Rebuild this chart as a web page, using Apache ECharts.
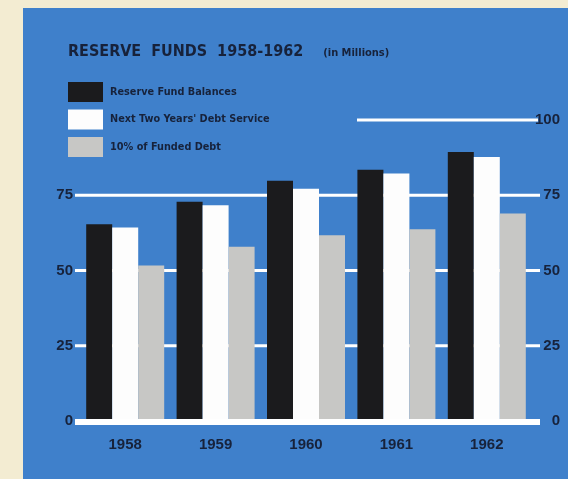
<!DOCTYPE html>
<html lang="en">
<head>
    <meta charset="UTF-8">
    <title>echarts</title>
    <script src="https://cdn.jsdelivr.net/npm/echarts@6/dist/echarts.min.js"></script>
    <style>
        body { margin: 0; background: #f3ecd2; }
        #panel { position: absolute; left: 23px; top: 8px; width: 545px; height: 471px; background: #3f80cb; }
        #myChart { position: absolute; left: 0; top: 0; width: 568px; height: 479px; }
    </style>
</head>
<body>
<div id="panel"></div>
<div id="myChart"></div>
<script type="text/javascript">
    // 数据
    var years = ['1958', '1959', '1960', '1961', '1962'];
    var reserveBalances = [65.4, 72.8, 79.8, 83.5, 89.4];
    var debtService = [64.3, 71.7, 77.2, 82.2, 87.7];
    var fundedDebt10 = [51.7, 57.9, 61.7, 63.7, 68.9];
    var leftTicks = [0, 25, 50, 75];
    var rightTicks = [0, 25, 50, 75, 100];

    var ink = '#17223b';
    var sans = '"Liberation Sans", Arial, sans-serif';
    var cond = '"DejaVu Sans Condensed", "DejaVu Sans", sans-serif';

    var myChart = echarts.init(document.getElementById('myChart'));

    function yAxisOf(pos, ticks) {
        return {
            type: 'value', position: pos, min: 0, max: 100, interval: 25,
            axisLine: {show: false},
            splitLine: {show: false},
            axisTick: {show: false},
            axisLabel: {
                customValues: ticks,
                color: ink, fontFamily: sans, fontWeight: 'bold', fontSize: 15,
                align: 'right',
                margin: pos == 'left' ? 7 : 28
            }
        };
    }

    function bar(name, data, color) {
        return {
            name: name, type: 'bar', data: data, barWidth: 26, barGap: '0%',
            itemStyle: {color: color}, z: 3
        };
    }

    var option = {
        animation: false,
        backgroundColor: 'transparent',
        title: {
            left: 68, top: 43, padding: 0,
            text: '{a|RESERVE  FUNDS  1958-1962}    {b|(in Millions)}',
            textStyle: {
                rich: {
                    a: {fontFamily: cond, fontWeight: 'bold', fontSize: 16, color: ink},
                    b: {fontFamily: cond, fontWeight: 'bold', fontSize: 11, color: ink, padding: [3, 0, 0, 0]}
                }
            }
        },
        legend: {
            orient: 'vertical', left: 68, top: 82, padding: 0,
            itemWidth: 35, itemHeight: 20, itemGap: 7.5,
            icon: 'rect',
            selectedMode: false,
            textStyle: {fontFamily: cond, fontWeight: 'bold', fontSize: 10.8, color: ink, padding: [0, 0, 0, 2]},
            data: ['Reserve Fund Balances', "Next Two Years' Debt Service", '10% of Funded Debt']
        },
        grid: {left: 80, right: 36, top: 120, bottom: 58},
        xAxis: {
            type: 'category', data: years,
            axisLine: {show: false},
            axisTick: {show: false},
            axisLabel: {color: ink, fontFamily: sans, fontWeight: 'bold', fontSize: 15, margin: 16}
        },
        yAxis: [yAxisOf('left', leftTicks), yAxisOf('right', rightTicks)],
        series: [
            bar('Reserve Fund Balances', reserveBalances, '#1b1b1d'),
            bar("Next Two Years' Debt Service", debtService, '#fdfdfd'),
            bar('10% of Funded Debt', fundedDebt10, '#c7c7c5')
        ]
    };
    myChart.setOption(option);

    // 网格线：由坐标轴换算像素位置
    var lines = [];
    var white = '#ffffff';
    [25, 50, 75].forEach(function (v) {
        var y = myChart.convertToPixel({yAxisIndex: 0}, v);
        lines.push({type: 'line', z: 1, shape: {x1: 75, y1: y, x2: 540, y2: y}, style: {stroke: white, lineWidth: 3}});
    });
    var y100 = myChart.convertToPixel({yAxisIndex: 0}, 100);
    lines.push({type: 'line', z: 1, shape: {x1: 357, y1: y100, x2: 538, y2: y100}, style: {stroke: white, lineWidth: 3}});
    var y0 = myChart.convertToPixel({yAxisIndex: 0}, 0);
    lines.push({type: 'line', z: 5, shape: {x1: 75, y1: y0 + 1, x2: 540, y2: y0 + 1}, style: {stroke: white, lineWidth: 6}});
    myChart.setOption({graphic: lines});
</script>
</body>
</html>
